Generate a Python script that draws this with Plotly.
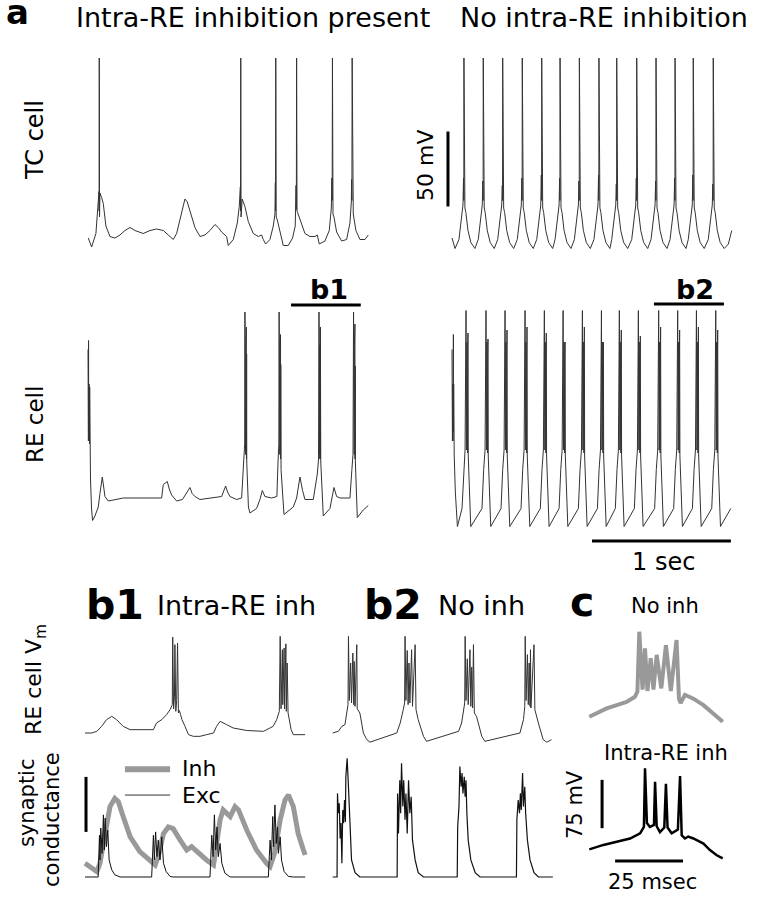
import plotly.graph_objects as go

W, H = 758, 899

# ---------------- data (time in ms, voltage in mV, conductance in scale-bar units) ----------------
TC_LEFT = [(2,-80),(26,-86),(57,-77),(69,-64),(77,-56),(79,-49),(80,-62),(81,40),(83,-66),(86,-50),(91,-51),(98,-53),
           (110,-57),(129,-72),(158,-79),(194,-80),(230,-78),(266,-75),(302,-73),(338,-75),(398,-77),(446,-75),(494,-74),
           (542,-75),(590,-79),(614,-81),(638,-77),(674,-64),(698,-54),(715,-56),(739,-64),(770,-73),(806,-79),(842,-78),
           (878,-75),(914,-71),(938,-73),(962,-76),(998,-79),(1010,-85),(1046,-81),(1075,-70),(1089,-59),(1097,-46),
           (1098,-62),(1100,40),(1102,-66),(1110,-54),(1118,-56),(1130,-59),(1154,-69),(1190,-77),(1226,-79),(1250,-78),
           (1262,-81),(1279,-84),(1310,-81),(1334,-72),(1346,-64),(1349,-43),(1350,-62),(1352,40),(1355,-66),(1363,-68),
           (1377,-73),(1406,-85),(1442,-85),(1473,-80),(1492,-72),(1498,-45),(1500,-61),(1502,40),(1505,-62),(1509,-63),
           (1526,-68),(1562,-77),(1598,-79),(1634,-79),(1651,-78),(1665,-84),(1706,-82),(1737,-75),(1752,-60),(1756,-40),
           (1758,-55),(1760,40),(1764,-64),(1771,-66),(1790,-76),(1826,-82),(1862,-81),(1886,-70),(1896,-56),(1898,-41),
           (1900,-55),(1902,40),(1906,-62),(1910,-64),(1929,-75),(1958,-81),(1994,-81),(2018,-78)]

TC_RIGHT = [(0,-80),(22,-87),(50,-81),(64,-71),(79,-58),(83,-40),(85,-55),(86,40),(89,-52),(93,-60),(100,-63),(115,-75),(136,-83),(165,-87),
            (189,-81),(203,-71),(218,-58),(222,-42),(224,-55),(225,40),(228,-52),(232,-60),(239,-63),(254,-75),(275,-83),(304,-87),
            (329,-81),(343,-71),(358,-58),(362,-45),(364,-55),(365,40),(368,-52),(372,-60),(379,-63),(394,-75),(415,-83),(444,-87),
            (470,-81),(484,-71),(499,-58),(503,-40),(505,-55),(506,40),(509,-52),(513,-60),(520,-63),(535,-75),(556,-83),(585,-87),
            (610,-81),(624,-71),(639,-58),(643,-38),(645,-55),(646,40),(649,-52),(653,-60),(660,-63),(675,-75),(696,-83),(725,-87),
            (742,-81),(756,-71),(771,-58),(775,-40),(777,-55),(778,40),(781,-52),(785,-60),(792,-63),(807,-75),(828,-83),(857,-87),
            (881,-81),(895,-71),(910,-58),(914,-42),(916,-55),(917,40),(920,-52),(924,-60),(931,-63),(946,-75),(967,-83),(996,-87),
            (1022,-81),(1036,-71),(1051,-58),(1055,-38),(1057,-55),(1058,40),(1061,-52),(1065,-60),(1072,-63),(1087,-75),(1108,-83),(1137,-87),
            (1150,-81),(1164,-71),(1179,-58),(1183,-44),(1185,-55),(1186,40),(1189,-52),(1193,-60),(1200,-63),(1215,-75),(1236,-83),(1265,-87),
            (1294,-81),(1308,-71),(1323,-58),(1327,-40),(1329,-55),(1330,40),(1333,-52),(1337,-60),(1344,-63),(1359,-75),(1380,-83),(1409,-87),
            (1433,-81),(1447,-71),(1462,-58),(1466,-42),(1468,-55),(1469,40),(1472,-52),(1476,-60),(1483,-63),(1498,-75),(1519,-83),(1548,-87),
            (1570,-81),(1584,-71),(1599,-58),(1603,-40),(1605,-55),(1606,40),(1609,-52),(1613,-60),(1620,-63),(1635,-75),(1656,-83),(1685,-87),
            (1701,-81),(1715,-71),(1730,-58),(1734,-38),(1736,-55),(1737,40),(1740,-52),(1744,-60),(1751,-63),(1766,-75),(1787,-83),(1816,-87),
            (1845,-81),(1859,-71),(1874,-58),(1878,-44),(1880,-55),(1881,40),(1884,-52),(1888,-60),(1895,-63),(1910,-75),(1931,-83),(1960,-87),
            (1990,-84),(2014,-75)]

RE_LEFT = [(0,25),(1,-30),(2,2),(3,-36),(4,31),(5,-30),(6,0),(7,-36),(8,2),(9,-36),(10,-5),(11,-38),(12,0),(14,-40),
           (18,-62),(26,-82),(33,-89),(50,-86),(74,-80),(86,-71),
           (103,-60),(112,-66),(122,-73),(146,-76),(200,-75),(254,-74),(530,-74),(542,-65),(571,-63),(585,-68),(602,-72),(638,-76),
           (680,-75),(710,-70),(734,-67),(750,-71),(770,-73),(806,-75),(902,-74),(962,-73),(991,-66),(1005,-70),(1022,-73),(1070,-75),
           (1106,-74),(1118,-49),(1128,-38),
           (1130,50),(1131,-40),(1132,30),(1133,-45),(1134,25),(1135,-45),(1136,28),(1137,-48),(1138,20),(1139,-48),(1140,40),
           (1141,-48),(1142,22),(1143,-50),
           (1155,-80),(1166,-84),(1214,-81),(1238,-75),(1255,-69),(1274,-73),(1322,-74),(1360,-73),(1368,-50),(1374,-38),
           (1376,50),(1377,-40),(1378,30),(1379,-45),(1380,25),(1381,-45),(1382,28),(1383,-48),(1384,20),(1385,-48),(1386,35),
           (1387,-48),(1388,15),(1390,-55),
           (1411,-85),(1478,-80),(1502,-74),(1526,-60),(1545,-69),(1562,-75),(1622,-75),(1651,-58),(1660,-48),
           (1663,50),(1664,-40),(1665,30),(1666,-45),(1667,25),(1668,-45),(1669,28),(1670,-48),(1671,20),(1672,-48),(1673,40),
           (1674,-48),(1675,12),(1676,-50),
           (1694,-86),(1742,-81),(1771,-67),(1790,-73),(1814,-74),(1886,-74),(1900,-55),(1908,-45),
           (1912,50),(1913,-40),(1914,30),(1915,-45),(1916,25),(1917,-45),(1918,28),(1919,-48),(1920,20),(1921,-48),(1922,42),
           (1923,-48),(1924,14),(1925,-50),
           (1939,-87),(1982,-82),(2018,-79)]

RE_RIGHT = [(0,25),(1,-20),(2,5),(3,-36),(4,0),(5,-30),(6,2),(7,-36),(8,-10),(9,-30),(10,35),(11,-30),(12,2),(13,-36),(14,0),(16,-46),(24,-70),(39,-93),
            (72,-81),(84,-55),(94,-42),(101,51),(102,-38),(103,28),(104,-42),(105,22),(106,-40),(107,30),(108,-42),(109,20),(110,-42),(111,26),(112,-44),(113,18),(114,-44),(115,36),(117,-46),(135,-93),
            (216,-81),(228,-55),(238,-42),(245,51),(246,-38),(247,28),(248,-42),(249,22),(250,-40),(251,30),(252,-42),(253,20),(254,-42),(255,26),(256,-44),(257,18),(258,-44),(259,32),(261,-46),(279,-93),
            (353,-81),(365,-55),(375,-42),(382,51),(383,-38),(384,28),(385,-42),(386,22),(387,-40),(388,30),(389,-42),(390,20),(391,-42),(392,26),(393,-44),(394,18),(395,-44),(396,38),(398,-46),(416,-93),
            (497,-81),(509,-55),(519,-42),(526,51),(527,-38),(528,28),(529,-42),(530,22),(531,-40),(532,30),(533,-42),(534,20),(535,-42),(536,26),(537,-44),(538,18),(539,-44),(540,40),(542,-46),(560,-93),
            (636,-81),(648,-55),(658,-42),(665,51),(666,-38),(667,28),(668,-42),(669,22),(670,-40),(671,30),(672,-42),(673,20),(674,-42),(675,26),(676,-44),(677,18),(678,-44),(679,36),(681,-46),(699,-93),
            (771,-81),(783,-55),(793,-42),(800,51),(801,-38),(802,28),(803,-42),(804,22),(805,-40),(806,30),(807,-42),(808,20),(809,-42),(810,26),(811,-44),(812,18),(813,-44),(814,30),(816,-46),(834,-93),
            (910,-81),(922,-55),(932,-42),(939,51),(940,-38),(941,28),(942,-42),(943,22),(944,-40),(945,30),(946,-42),(947,20),(948,-42),(949,26),(950,-44),(951,18),(952,-44),(953,40),(955,-46),(973,-93),
            (1047,-81),(1059,-55),(1069,-42),(1076,51),(1077,-38),(1078,28),(1079,-42),(1080,22),(1081,-40),(1082,30),(1083,-42),(1084,20),(1085,-42),(1086,26),(1087,-44),(1088,18),(1089,-44),(1090,30),(1092,-46),(1110,-93),
            (1176,-81),(1188,-55),(1198,-42),(1205,51),(1206,-38),(1207,28),(1208,-42),(1209,22),(1210,-40),(1211,30),(1212,-42),(1213,20),(1214,-42),(1215,26),(1216,-44),(1217,18),(1218,-44),(1219,38),(1221,-46),(1239,-93),
            (1313,-81),(1325,-55),(1335,-42),(1342,51),(1343,-38),(1344,28),(1345,-42),(1346,22),(1347,-40),(1348,30),(1349,-42),(1350,20),(1351,-42),(1352,26),(1353,-44),(1354,18),(1355,-44),(1356,34),(1358,-46),(1376,-93),
            (1459,-81),(1471,-55),(1481,-42),(1488,51),(1489,-38),(1490,28),(1491,-42),(1492,22),(1493,-40),(1494,30),(1495,-42),(1496,20),(1497,-42),(1498,26),(1499,-44),(1500,18),(1501,-44),(1502,40),(1504,-46),(1522,-93),
            (1596,-81),(1608,-55),(1618,-42),(1625,51),(1626,-38),(1627,28),(1628,-42),(1629,22),(1630,-40),(1631,30),(1632,-42),(1633,20),(1634,-42),(1635,26),(1636,-44),(1637,18),(1638,-44),(1639,38),(1641,-46),(1659,-93),
            (1731,-81),(1743,-55),(1753,-42),(1760,51),(1761,-38),(1762,28),(1763,-42),(1764,22),(1765,-40),(1766,30),(1767,-42),(1768,20),(1769,-42),(1770,26),(1771,-44),(1772,18),(1773,-44),(1774,40),(1776,-46),(1794,-93),
            (1870,-81),(1882,-55),(1892,-42),(1899,51),(1900,-38),(1901,28),(1902,-42),(1903,22),(1904,-40),(1905,30),(1906,-42),(1907,20),(1908,-42),(1909,26),(1910,-44),(1911,18),(1912,-44),(1913,38),(1915,-46),(1933,-93),
            (2007,-81)]

B1_VM = [(0,-74),(15,-74),(27,-72),(38,-66),(49,-58),(61,-54),(72,-58),(87,-66),(103,-70),(125,-70),(156,-70),(163,-62),(175,-58),
         (186,-52),(194,-46),(199,-40),(200,41),(202,-45),(204,-30),(205,32),(207,-48),(209,-35),(211,34),(213,-50),(215,-47),
         (218,-52),(221,-58),(228,-66),(236,-76),(247,-78),(262,-78),(277,-76),(293,-74),(300,-66),(308,-60),(323,-64),(338,-68),
         (369,-71),(407,-72),(429,-66),(437,-58),(443,-48),(445,42),(447,-45),(450,26),(451,-40),(454,28),(455,-45),(458,33),
         (459,-48),(461,10),(463,-50),(467,-60),(470,-70),(475,-76),(502,-76)]

B1_INH = [(0,0.25),(11,0.18),(27,0.10),(34,0.25),(46,0.79),(57,1.28),(68,1.43),(76,1.37),(87,1.10),(103,0.73),(125,0.46),
          (148,0.31),(160,0.22),(167,0.37),(171,0.55),(179,0.79),(190,0.91),(201,0.88),(217,0.67),(232,0.49),(243,0.55),
          (255,0.46),(277,0.31),(293,0.22),(300,0.55),(308,1.04),(315,1.22),(323,1.16),(331,1.10),(342,1.28),(350,1.22),
          (369,0.85),(391,0.49),(414,0.25),(422,0.19),(433,0.45),(445,1.04),(456,1.40),(464,1.49),(475,1.28),(486,0.79),
          (498,0.49),(502,0.40)]

B1_EXC = [(0,0),(30,0),(33,0.76),(34,0.31),(36,0.89),(39,0.43),(42,1.13),(44,0.49),(46,1.07),(49,0.55),(52,0.85),(55,0.31),
          (61,0.13),(68,0.04),(80,0),(152,0),(156,0.76),(158,0.31),(161,0.82),(164,0.37),(167,0.67),(171,0.31),(175,0.73),
          (179,0.25),(185,0.10),(194,0.01),(201,0),(285,0),(289,0.76),(292,0.37),(295,1.13),(298,0.49),(301,0.91),(304,0.37),
          (308,0.61),(312,0.25),(319,0.07),(331,0),(418,0),(422,0.67),(425,0.31),(428,1.10),(430,0.55),(433,1.31),(436,0.61),
          (439,0.91),(441,0.43),(445,0.73),(448,0.31),(454,0.10),(464,0.01),(475,0),(502,0)]

B2_VM = [(0,-74),(13,-72),(21,-66),(28,-64),(32,-50),(35,-40),(36,42),(38,-35),(41,10),(43,-38),(46,22),(48,-40),(49,12),
         (51,-42),(55,32),(56,-45),(62,-50),(70,-74),(78,-82),(85,-85),(146,-74),(154,-62),(161,-46),(164,-38),(165,42),
         (167,-35),(170,25),(172,-40),(174,10),(176,-38),(180,26),(182,-42),(188,32),(190,-46),(195,-58),(207,-78),(214,-84),
         (287,-72),(294,-62),(298,-46),(301,-38),(302,42),(304,-35),(307,15),(309,-40),(313,26),(315,-42),(317,5),(319,-44),
         (321,32),(323,-50),(328,-54),(340,-78),(347,-84),(427,-74),(435,-58),(438,-42),(439,42),(441,-35),(444,20),(446,-40),
         (448,10),(450,-42),(451,26),(452,-44),(459,32),(461,-46),(469,-62),(480,-82),(488,-85),(499,-82)]

B2_EXC = [(0,0),(10,0),(11,1.52),(13,1.16),(15,1.34),(17,0.70),(19,0.98),(21,0.25),(23,1.22),(25,0.98),(27,1.40),(29,1.00),
          (30,1.82),(33,2.16),(36,1.64),(40,0.79),(43,0.31),(51,0.08),(62,0),(147,0),(148,1.52),(150,0.79),(153,1.76),
          (155,1.16),(157,2.07),(160,1.28),(162,1.76),(165,1.04),(167,1.52),(170,0.79),(173,1.76),(176,1.16),(179,1.46),
          (182,0.67),(188,0.31),(195,0.08),(207,0),(284,0),(285,0.91),(288,1.28),(290,2.01),(293,1.64),(295,1.89),(297,1.52),
          (300,1.82),(302,1.46),(304,1.76),(306,1.16),(309,0.67),(315,0.31),(325,0.08),(336,0),(419,0),(420,1.04),(423,1.40),
          (426,1.16),(428,1.52),(430,1.22),(433,1.89),(435,1.28),(438,1.64),(440,1.16),(444,0.67),(450,0.31),(459,0.08),
          (469,0),(502,0)]

C_NO_INH = [(0,-92),(2.7,-86),(6.4,-79),(10.1,-74),(13.7,-69),(16.8,-61),(17.7,-53),(18.4,40),(19.6,-50),(20.5,14),
            (21.4,-52),(22.6,-1),(23.6,-50),(24.8,4),(26.5,-48),(28.2,19),(30.0,-52),(32.1,27),(33.0,-64),(33.6,-71),
            (35.2,-58),(38.3,-64),(42.0,-74),(45.6,-87),(49.1,-100)]

C_INTRA = [(0,-86),(5.2,-79),(10.1,-74),(15.0,-69),(18.7,-61),(20.1,-51),(20.5,40),(21.2,-45),(22.3,-51),(23.8,-48),
           (24.2,19),(24.8,-50),(26.0,-59),(27.6,-52),(28.2,16),(28.8,-52),(30.3,-61),(32.6,-55),(33.4,28),(34.0,-64),
           (35.2,-69),(36.4,-66),(38.3,-69),(42.0,-77),(44.4,-87),(46.9,-95),(49.1,-100)]

# scale bars and window markers (data units of their panels)
BAR_50MV = [(-29, -59), (-29, -9)]          # panel TC right, 50 mV
BAR_1SEC = [(1008, -102.7), (2008, -102.7)]  # panel RE right, 1000 ms
B1_WINDOW = [(1462, 54.7), (1964, 54.7)]     # panel RE left
B2_WINDOW = [(1454, 55.3), (1958, 55.3)]     # panel RE right
BAR_COND = [(2.3, 0.82), (2.3, 1.82)]        # conductance scale (1 unit)
LEG_INH = [(91, 1.96), (194, 1.96)]
LEG_EXC = [(91, 1.49), (194, 1.49)]
BAR_75MV = [(4.7, -53), (4.7, 22)]
BAR_25MS = [(9.5, -104), (34.5, -104)]

# ---------------- layout geometry ----------------
# n: (x px span), (x anchor px, data at anchor, data per px), (y px span top->bottom), (y anchor px, data at anchor, data per px)
PANELS = {
    1: ((80, 375), (88, 0.0, 7.2), (50, 255), (58, 40.0, 1 / 1.5)),
    2: ((440, 740), (452, 0.0, 7.2), (50, 255), (58, 40.0, 1 / 1.5)),
    3: ((80, 375), (88, 0.0, 7.2), (298, 530), (312, 50.0, 1 / 1.5)),
    4: ((440, 740), (452, 0.0, 7.2), (298, 548), (312, 50.0, 1 / 1.5)),
    5: ((80, 310), (85, 0.0, 2.28), (628, 750), (638, 40.0, 1.2)),
    6: ((80, 310), (85, 0.0, 2.28), (755, 885), (877, 0.0, 1 / 55)),
    7: ((328, 558), (332.67, 0.0, 2.28), (628, 750), (638, 40.0, 1.2)),
    8: ((328, 558), (332.67, 0.0, 2.28), (755, 885), (877, 0.0, 1 / 55)),
    9: ((580, 730), (589.3, 0.0, 0.368), (622, 735), (631.7, 40.0, 1.553)),
    10: ((580, 730), (589.3, 0.0, 0.368), (758, 872), (768.3, 40.0, 1.553)),
}

fig = go.Figure()
layout_axes = {}
for n, ((px0, px1), (xa, xd, xk), (py0, py1), (ya, yd, yk)) in PANELS.items():
    s = '' if n == 1 else str(n)
    layout_axes['xaxis' + s] = dict(domain=[px0 / W, px1 / W],
                                    range=[xd + (px0 - xa) * xk, xd + (px1 - xa) * xk],
                                    visible=False, fixedrange=True, anchor='y' + s)
    layout_axes['yaxis' + s] = dict(domain=[1 - py1 / H, 1 - py0 / H],
                                    range=[yd - (py1 - ya) * yk, yd - (py0 - ya) * yk],
                                    visible=False, fixedrange=True, anchor='x' + s)


def add(pairs, n, color, width):
    s = '' if n == 1 else str(n)
    fig.add_trace(go.Scatter(x=[p[0] for p in pairs], y=[p[1] for p in pairs], mode='lines',
                             line=dict(color=color, width=width), xaxis='x' + s, yaxis='y' + s,
                             hoverinfo='skip', showlegend=False))


TRACE = '#333333'
add(TC_LEFT, 1, TRACE, 1)
add(TC_RIGHT, 2, TRACE, 1)
add(RE_LEFT, 3, TRACE, 1)
add(RE_RIGHT, 4, TRACE, 1)
add(B1_VM, 5, TRACE, 1)
add(B1_INH, 6, '#999999', 5)
add(B1_EXC, 6, '#111111', 1)
add(B2_VM, 7, TRACE, 1)
add(B2_EXC, 8, '#111111', 1.2)
add(C_NO_INH, 9, '#999999', 4)
add(C_INTRA, 10, '#000000', 2.5)

add(BAR_50MV, 2, 'black', 3)
add(BAR_1SEC, 4, 'black', 3)
add(B1_WINDOW, 3, 'black', 3)
add(B2_WINDOW, 4, 'black', 3)
add(BAR_COND, 6, 'black', 3)
add(LEG_INH, 6, '#999999', 6)
add(LEG_EXC, 6, '#333333', 1)
add(BAR_75MV, 10, 'black', 3)
add(BAR_25MS, 10, 'black', 3)

FONT = 'DejaVu Sans'
# (text, x px, y px, size, angle, xanchor)
LABELS = [
    ('<b>a</b>', 17, 12, 34, 0, 'center'),
    ('Intra-RE inhibition present', 253, 17, 27, 0, 'center'),
    ('No intra-RE inhibition', 604, 17, 27, 0, 'center'),
    ('TC cell', 35, 140, 24, -90, 'center'),
    ('RE cell', 35, 425, 23, -90, 'center'),
    ('50 mV', 425, 166, 22, -90, 'center'),
    ('<b>b1</b>', 329, 289, 27, 0, 'center'),
    ('<b>b2</b>', 695, 289, 27, 0, 'center'),
    ('1 sec', 663, 562, 24, 0, 'center'),
    ('<b>b1</b>', 115, 605, 41, 0, 'center'),
    ('Intra-RE inh', 236, 605, 27, 0, 'center'),
    ('<b>b2</b>', 393, 605, 41, 0, 'center'),
    ('No inh', 481, 605, 27, 0, 'center'),
    ('<b>c</b>', 582, 602, 41, 0, 'center'),
    ('No inh', 665, 606, 21, 0, 'center'),
    ('Intra-RE inh', 666, 753, 21, 0, 'center'),
    ('75 mV', 575, 805, 21, -90, 'center'),
    ('25 msec', 652, 882, 21, 0, 'center'),
    ('RE cell V<sub>m</sub>', 35, 680, 22, -90, 'center'),
    ('synaptic', 27, 803, 21, -90, 'center'),
    ('conductance', 52, 820, 21, -90, 'center'),
    ('Inh', 181, 768, 22, 0, 'left'),
    ('Exc', 181, 795, 22, 0, 'left'),
]

annotations = [dict(text=t, x=x / W, y=1 - y / H, xref='paper', yref='paper', showarrow=False,
                    xanchor=xa, yanchor='middle', textangle=ang, borderpad=0,
                    font=dict(family=FONT, size=sz, color='black'))
               for (t, x, y, sz, ang, xa) in LABELS]

fig.update_layout(width=W, height=H, margin=dict(l=0, r=0, t=0, b=0),
                  paper_bgcolor='white', plot_bgcolor='white', showlegend=False,
                  annotations=annotations, **layout_axes)

fig.write_html('out.html', config={'displayModeBar': False, 'staticPlot': True},
               post_script="document.body.style.margin='0';")
